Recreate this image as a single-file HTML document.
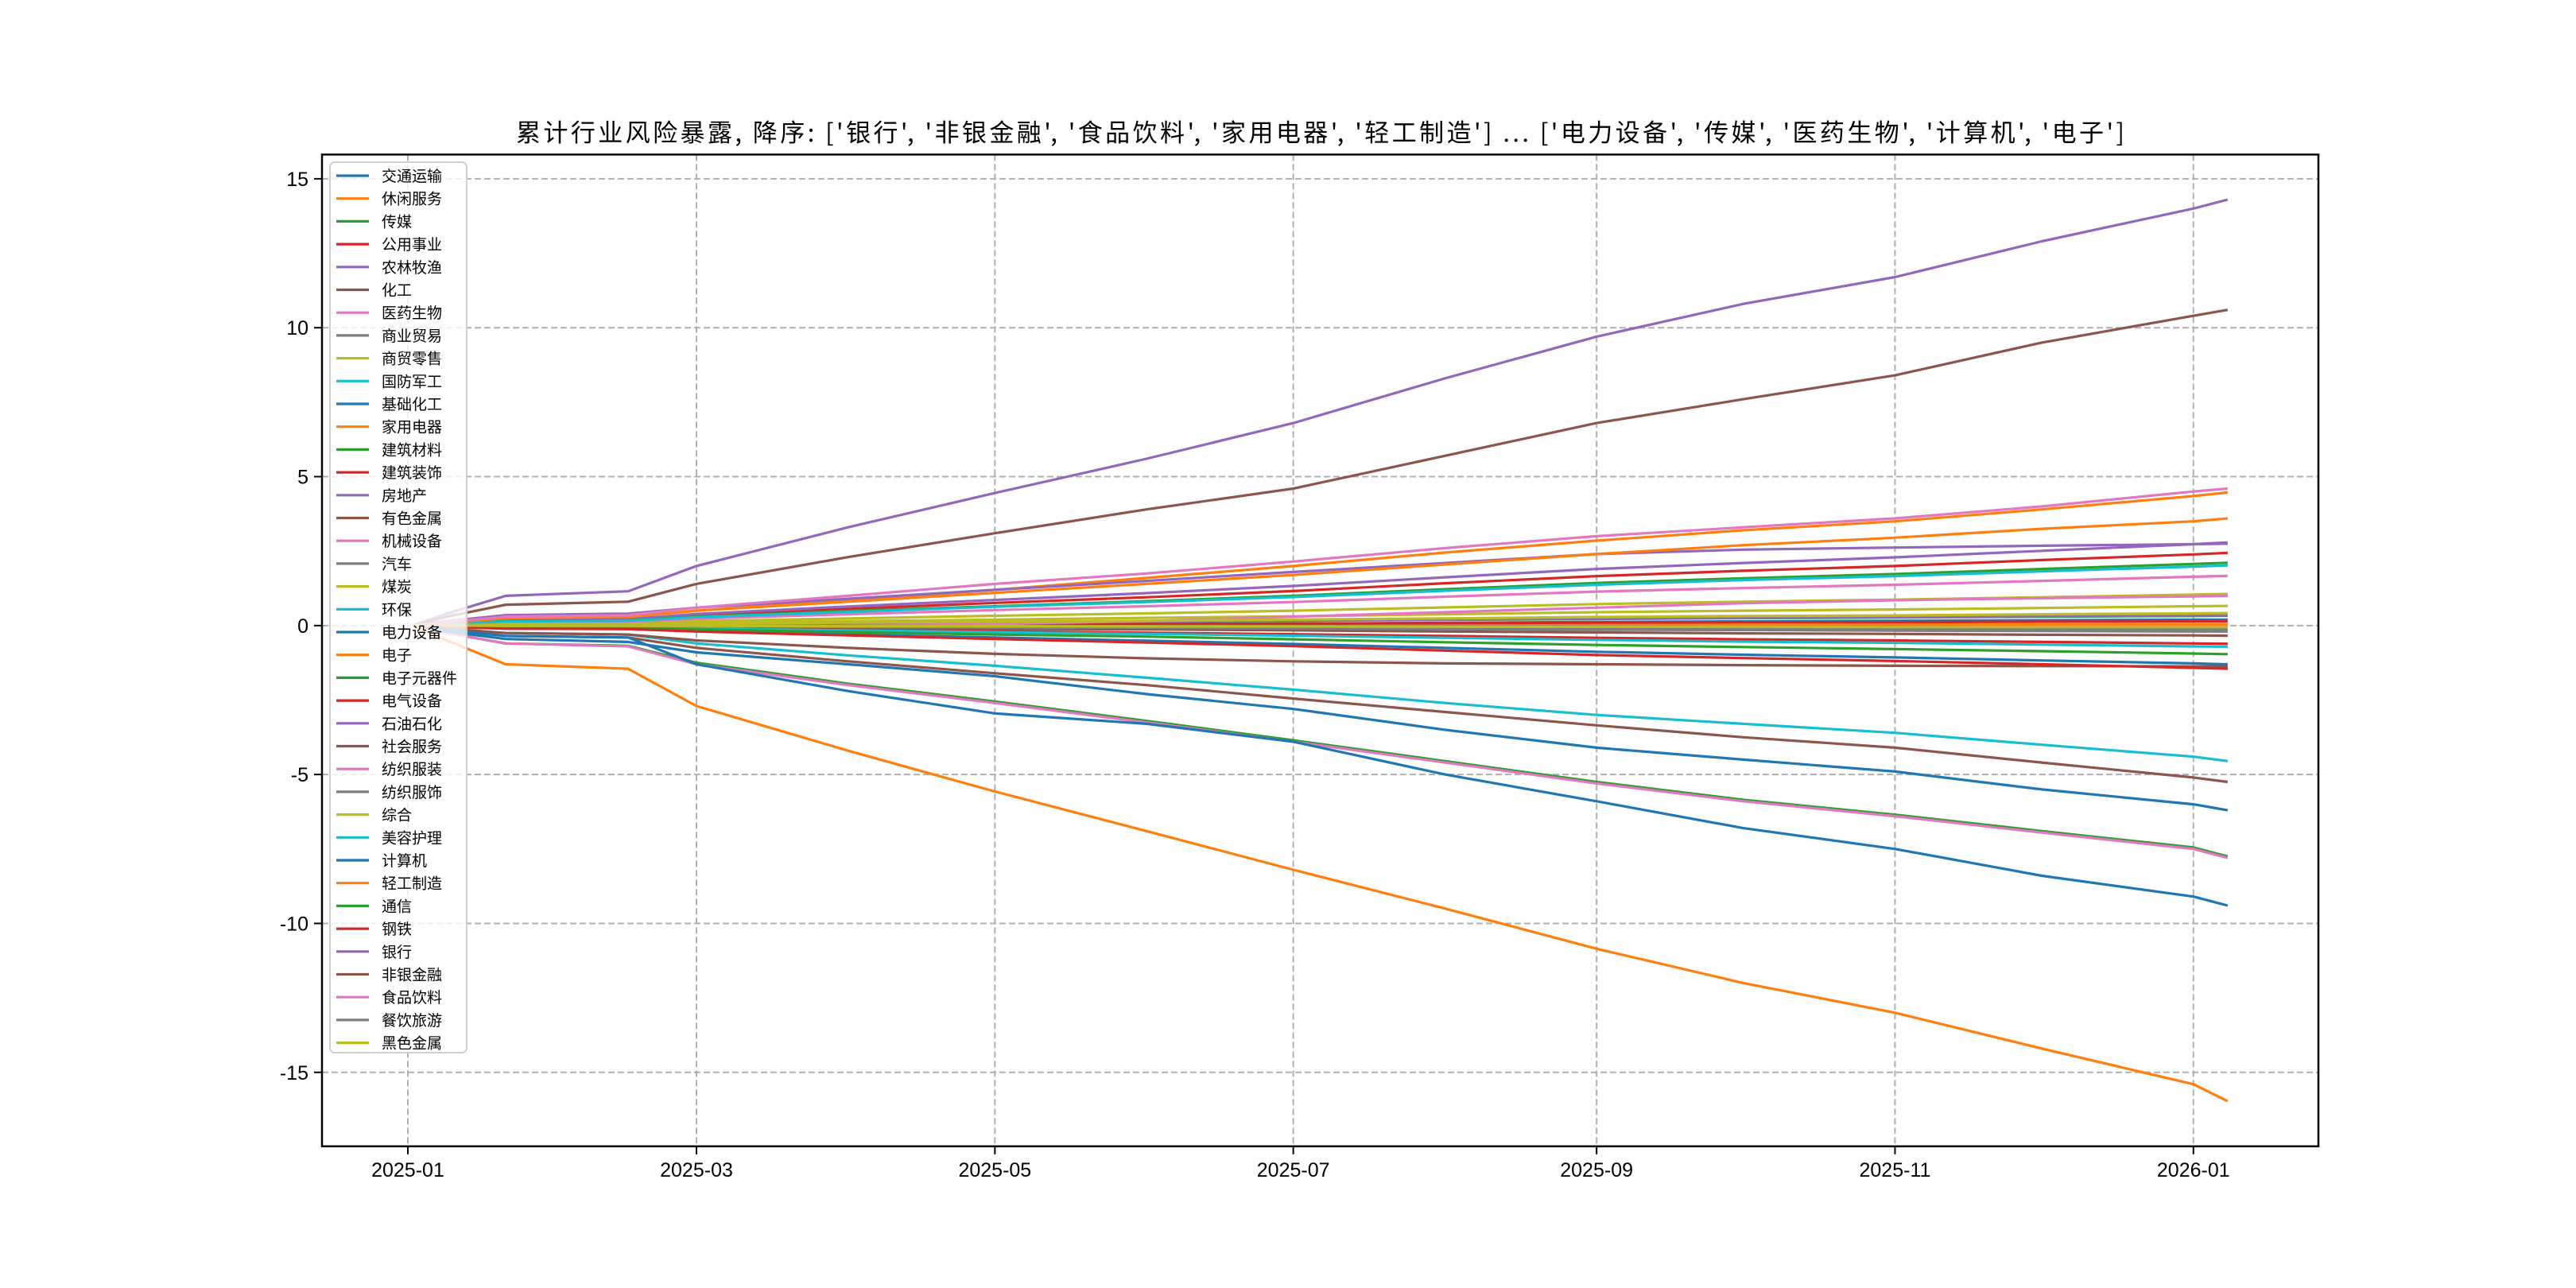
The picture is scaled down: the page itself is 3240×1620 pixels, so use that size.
<!DOCTYPE html>
<html><head><meta charset="utf-8">
<style>
html,body{margin:0;padding:0;background:#fff;}
svg{display:block;font-family:"Liberation Sans","Noto Sans CJK SC",sans-serif;}
</style></head>
<body>
<svg id="chart" width="3240" height="1620" viewBox="0 0 3240 1620" xmlns="http://www.w3.org/2000/svg">
<rect x="0" y="0" width="3240" height="1620" fill="#fff"/>
<text x="649" y="178" textLength="2023" lengthAdjust="spacing" font-size="31" fill="#000" style="font-family:'Noto Sans CJK SC','Liberation Sans',sans-serif">累计行业风险暴露, 降序: ['银行', '非银金融', '食品饮料', '家用电器', '轻工制造'] ... ['电力设备', '传媒', '医药生物', '计算机', '电子']</text>
<g id="grid"></g>
<g id="lines"></g>
<rect x="405" y="194.4" width="2511" height="1247.4" fill="none" stroke="#000" stroke-width="2.5"/>
<g id="axes"></g>
<g id="legend"></g>
</svg>
<script>
const dayOffsets = [1,8,20,45,59,90,120,151,181,212,243,273,304,334,365,372];
const names = ['交通运输','休闲服务','传媒','公用事业','农林牧渔','化工','医药生物','商业贸易','商贸零售','国防军工','基础化工','家用电器','建筑材料','建筑装饰','房地产','有色金属','机械设备','汽车','煤炭','环保','电力设备','电子','电子元器件','电气设备','石油石化','社会服务','纺织服装','纺织服饰','综合','美容护理','计算机','轻工制造','通信','钢铁','银行','非银金融','食品饮料','餐饮旅游','黑色金属'];
const s00 = [0,-.04,-.09,-.1,-.18,-.3,-.4,-.51,-.62,-.75,-.88,-.98,-1.07,-1.17,-1.27,-1.3];
const s01 = [0,0,0,0,.01,.01,.01,.02,.02,.02,.03,.03,.03,.04,.04,.04];
const s02 = [0,-0.25,-0.6,-0.68,-1.25,-1.95,-2.55,-3.2,-3.85,-4.55,-5.25,-5.85,-6.35,-6.9,-7.45,-7.75];
const s03 = [0,.07,.17,.2,.34,.56,.76,.95,1.16,1.42,1.66,1.84,2.0,2.2,2.39,2.44];
const s04 = [0,.08,.2,.22,.39,.64,.86,1.09,1.33,1.62,1.9,2.1,2.29,2.51,2.73,2.79];
const s05 = [0,-.01,-.02,-.03,-.05,-.08,-.11,-.13,-.16,-.2,-.23,-.26,-.28,-.31,-.33,-.34];
const s06 = [0,-0.25,-0.6,-0.7,-1.3,-2.0,-2.6,-3.25,-3.9,-4.6,-5.3,-5.9,-6.4,-6.95,-7.5,-7.8];
const s07 = [0,0,-.01,-.01,-.02,-.03,-.04,-.05,-.06,-.07,-.08,-.09,-.1,-.11,-.12,-.12];
const s08 = [0,.03,.07,.08,.15,.24,.33,.41,.5,.61,.72,.8,.87,.95,1.04,1.06];
const s09 = [0,-0.1,-0.25,-0.3,-0.6,-1.0,-1.35,-1.75,-2.15,-2.6,-3.0,-3.3,-3.6,-4.0,-4.4,-4.55];
const s10 = [0,-.05,-.1,-.1,-.08,-.05,0,.03,.06,.09,.12,.14,.16,.18,.2,.2];
const s11 = [0,0.1,0.25,0.3,0.5,0.85,1.2,1.6,2.0,2.45,2.85,3.2,3.5,3.9,4.35,4.47];
const s12 = [0,.06,.15,.17,.3,.49,.65,.82,1.0,1.22,1.43,1.59,1.73,1.9,2.07,2.11];
const s13 = [0,0,.01,.01,.02,.03,.04,.05,.07,.08,.1,.11,.11,.13,.14,.14];
const s14 = [0,.15,.35,.4,.6,.9,1.2,1.5,1.8,2.1,2.4,2.55,2.62,2.68,2.73,2.75];
const s15 = [0,-0.15,-0.35,-0.4,-0.75,-1.2,-1.6,-2.0,-2.45,-2.9,-3.35,-3.75,-4.1,-4.6,-5.1,-5.25];
const s16 = [0,.05,.12,.13,.23,.38,.52,.65,.79,.97,1.14,1.26,1.37,1.5,1.64,1.67];
const s17 = [0,-.01,-.02,-.02,-.03,-.05,-.07,-.08,-.1,-.12,-.14,-.15,-.17,-.18,-.2,-.2];
const s18 = [0,.02,.05,.05,.09,.15,.2,.26,.31,.38,.45,.5,.54,.59,.65,.66];
const s19 = [0,.06,.14,.16,.28,.46,.63,.79,.96,1.17,1.37,1.53,1.66,1.82,1.98,2.02];
const s20 = [0,-0.2,-0.45,-0.55,-0.9,-1.3,-1.7,-2.3,-2.8,-3.5,-4.1,-4.5,-4.9,-5.5,-6.0,-6.2];
const s21 = [0,-0.5,-1.3,-1.45,-2.7,-4.2,-5.57,-6.9,-8.2,-9.5,-10.85,-12.0,-13.0,-14.2,-15.4,-15.97];
const s22 = [0,.01,.02,.03,.05,.08,.1,.13,.16,.19,.22,.25,.27,.3,.32,.33];
const s23 = [0,-.02,-.04,-.05,-.09,-.14,-.19,-.24,-.29,-.35,-.41,-.46,-.5,-.55,-.6,-.61];
const s24 = [0,.01,.02,.03,.05,.08,.11,.14,.17,.2,.24,.26,.29,.32,.34,.35];
const s25 = [0,-.1,-.25,-.3,-.5,-.75,-.95,-1.1,-1.2,-1.27,-1.3,-1.33,-1.35,-1.36,-1.37,-1.37];
const s26 = [0,-.05,-.1,-.1,-.05,0,.05,.15,.3,.45,.6,.75,.85,.92,.98,1.0];
const s27 = [0,0,0,0,-.01,-.01,-.02,-.02,-.02,-.03,-.03,-.04,-.04,-.05,-.05,-.05];
const s28 = [0,.01,.03,.03,.06,.1,.13,.16,.2,.24,.29,.32,.34,.38,.41,.42];
const s29 = [0,-.02,-.05,-.06,-.1,-.16,-.22,-.28,-.34,-.41,-.48,-.54,-.58,-.64,-.7,-.71];
const s30 = [0,-0.15,-0.35,-0.4,-1.3,-2.2,-2.95,-3.3,-3.9,-5.0,-5.9,-6.8,-7.5,-8.4,-9.1,-9.4];
const s31 = [0,0.1,0.25,0.3,0.5,0.8,1.1,1.4,1.7,2.05,2.4,2.7,2.95,3.25,3.5,3.6];
const s32 = [0,-.03,-.07,-.08,-.13,-.22,-.3,-.37,-.46,-.56,-.65,-.72,-.79,-.86,-.94,-.96];
const s33 = [0,-.04,-.1,-.12,-.2,-.33,-.45,-.57,-.69,-.84,-.99,-1.09,-1.19,-1.3,-1.42,-1.45];
const s34 = [0,0.4,1.0,1.15,2.0,3.3,4.45,5.6,6.8,8.3,9.7,10.8,11.7,12.9,14.0,14.3];
const s35 = [0,0.3,0.7,0.8,1.4,2.3,3.1,3.9,4.6,5.7,6.8,7.6,8.4,9.5,10.4,10.6];
const s36 = [0,0.12,0.3,0.35,0.6,1.0,1.4,1.75,2.15,2.6,3.0,3.3,3.6,4.0,4.5,4.6];
const s37 = [0,0,-.01,-.01,-.02,-.04,-.05,-.06,-.07,-.09,-.1,-.11,-.12,-.14,-.15,-.15];
const s38 = [0,0,-.01,-.01,-.01,-.02,-.02,-.03,-.03,-.04,-.04,-.04,-.05,-.05,-.05,-.05];
const seriesValues = [s00,s01,s02,s03,s04,s05,s06,s07,s08,s09,s10,s11,s12,s13,s14,s15,s16,s17,s18,s19,s20,s21,s22,s23,s24,s25,s26,s27,s28,s29,s30,s31,s32,s33,s34,s35,s36,s37,s38];
const yTicks = [-15,-10,-5,0,5,10,15];
const xTickDays = [0,59,120,181,243,304,365];
const xTickLabels = ['2025-01','2025-03','2025-05','2025-07','2025-09','2025-11','2026-01'];

const palette = ['#1f77b4','#ff7f0e','#2ca02c','#d62728','#9467bd','#8c564b','#e377c2','#7f7f7f','#bcbd22','#17becf'];
const NS = 'http://www.w3.org/2000/svg';
const L=405,R=2916,T=194.4,B=1441.8;
let yMin=Infinity,yMax=-Infinity;
seriesValues.forEach(a=>a.forEach(v=>{yMin=Math.min(yMin,v);yMax=Math.max(yMax,v);}));
const yr=yMax-yMin; const y0=yMin-0.05*yr, y1=yMax+0.05*yr;
const dMin=dayOffsets[0], dMax=dayOffsets[dayOffsets.length-1], dr=dMax-dMin;
const x0=dMin-0.05*dr, x1=dMax+0.05*dr;
const xs=d=>L+(d-x0)/(x1-x0)*(R-L);
const ys=v=>B-(v-y0)/(y1-y0)*(B-T);
function mk(tag,attrs,parent){const e=document.createElementNS(NS,tag);for(const k in attrs)e.setAttribute(k,attrs[k]);parent.appendChild(e);return e;}
const grid=document.getElementById('grid'), axes=document.getElementById('axes');
yTicks.forEach(t=>{
  const y=ys(t);
  const g=mk('line',{x1:L,x2:R,y1:y,y2:y,stroke:'#b0b0b0','stroke-width':2,'stroke-dasharray':'8,4'},grid);
  
  
  const tk=mk('line',{x1:L-10,x2:L,y1:y,y2:y,stroke:'#000','stroke-width':2},axes);
  
  
  const tx=mk('text',{x:L-17,y:y+9,'text-anchor':'end','font-size':25,fill:'#000'},axes);
  tx.textContent=String(t);
  
  
});
xTickDays.forEach((d,i)=>{
  const x=xs(d);
  const g=mk('line',{x1:x,x2:x,y1:T,y2:B,stroke:'#b0b0b0','stroke-width':2,'stroke-dasharray':'8,4'},grid);
  
  
  const tk=mk('line',{x1:x,x2:x,y1:B,y2:B+10,stroke:'#000','stroke-width':2},axes);
  
  
  const tx=mk('text',{x:x,y:B+38,'text-anchor':'middle','font-size':25,fill:'#000'},axes);
  tx.textContent=xTickLabels[i];
  
  
});
const lines=document.getElementById('lines');
seriesValues.forEach((arr,i)=>{
  const pts=arr.map((v,j)=>xs(dayOffsets[j]).toFixed(1)+','+ys(v).toFixed(1)).join(' ');
  const p=mk('polyline',{points:pts,fill:'none',stroke:palette[i%10],'stroke-width':3.2,'stroke-linejoin':'round'},lines);
  
  
});
const leg=document.getElementById('legend');
const box=mk('rect',{x:415,y:204,width:172,height:1120,rx:6,fill:'#fff','fill-opacity':0.8,stroke:'#d0d0d0','stroke-width':2},leg);


names.forEach((n,i)=>{
  const y=221+i*28.7;
  const g=mk('g',{},leg);
  
  
  mk('line',{x1:423,x2:464,y1:y,y2:y,stroke:palette[i%10],'stroke-width':3.2},g);
  const t=mk('text',{x:480,y:y+7,'font-size':19,fill:'#000'},g);
  t.textContent=n;
});
</script>
</body></html>
